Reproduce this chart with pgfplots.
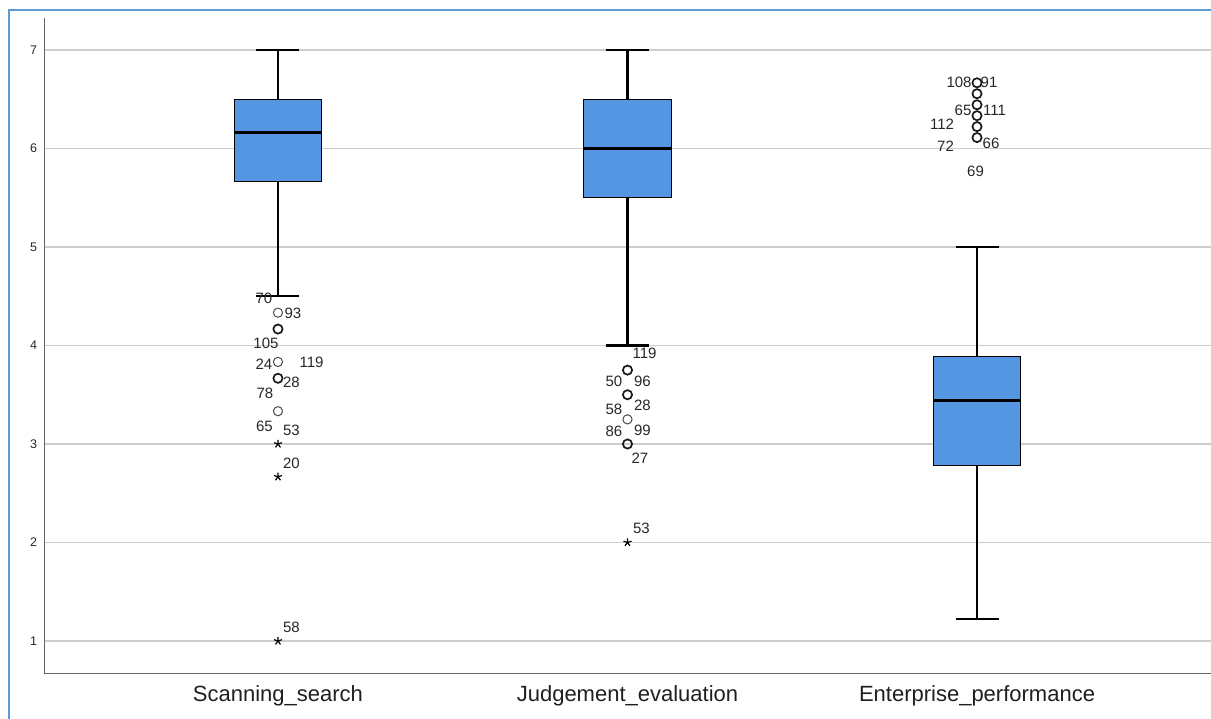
\documentclass[border=0pt]{standalone}
\usepackage{fontspec}
\setmainfont{Liberation Sans}
\usepackage{pgfplots}
\usepackage{pgfplotstable}
\usepgfplotslibrary{statistics}
\pgfplotsset{compat=1.18}
\definecolor{boxblue}{RGB}{85,150,227}
\definecolor{frameblue}{RGB}{91,155,213}
\definecolor{gridgray}{RGB}{205,205,205}
\definecolor{axisgray}{RGB}{100,100,100}
\pgfplotstableread{
x y label dx dy
1 4.333 70 -14 14
1 4.333 93 15 -1
1 4.167 105 -12 -14
1 3.833 24 -14 -2
1 3.833 119 33.5 -0.5
1 3.667 28 13.5 -4
1 3.667 78 -13 -15
1 3.333 65 -13.5 -15.5
1 3.0 53 13.5 14
1 2.667 20 13.5 13.7
1 1.0 58 13.5 13.5
2 3.75 119 17 17
2 3.75 50 -13.5 -11
2 3.75 96 15 -11
2 3.5 58 -13.5 -15
2 3.5 28 15 -10.7
2 3.25 86 -13.5 -11.5
2 3.25 99 15 -10.5
2 3.0 27 12.5 -14.5
2 2.0 53 14 14.3
3 6.667 108 -18 0.7
3 6.667 91 12 0.7
3 6.444 65 -14 -5.7
3 6.444 111 17.5 -5.7
3 6.222 112 -35 2.5
3 6.111 72 -31.5 -9
3 6.111 66 14 -5.5
3 6.111 69 -1.5 -33.5
}\outlierlabels
\begin{document}
\begin{tikzpicture}
\path[use as bounding box] (-44.5pt,-45.5pt) rectangle (1166.5pt,673.5pt);
\draw[frameblue, line width=2pt] (-35.8pt,-60pt) -- (-35.8pt,663.5pt) -- (1200pt,663.5pt);
\begin{axis}[
  at={(0,0)}, anchor=south west,
  scale only axis, width=1166.5pt, height=655.5pt,
  xmin=0.332, xmax=3.6695, ymin=0.670, ymax=7.325,
  axis x line*=bottom, axis y line*=left,
  axis line style={axisgray, line width=1.4pt},
  ytick={1,2,3,4,5,6,7},
  xtick={1,2,3},
  xticklabels={Scanning\_search, Judgement\_evaluation, Enterprise\_performance},
  ymajorgrids, grid style={gridgray, line width=1.4pt},
  major tick length=0pt,
  /pgf/number format/assume math mode=true,
  yticklabel style={font=\fontsize{12.5}{14}\selectfont, text=black!85, xshift=-4pt},
  xticklabel style={font=\fontsize{22}{26}\selectfont, text=black!88, yshift=-9pt},
  clip=false,
  boxplot/draw direction=y,
  boxplot/box extend=0.251,
  boxplot/whisker extend=0.123,
  boxplot/every box/.style={draw=black, fill=boxblue, line width=1.2pt},
  boxplot/every whisker/.style={draw=black, line width=2.2pt},
  boxplot/every median/.style={draw=black, line width=3pt},
]
\addplot[boxplot prepared={draw position=1, lower whisker=4.5, lower quartile=5.667, median=6.167, upper quartile=6.5, upper whisker=7}, draw=black, mark=none] coordinates {};
\addplot[boxplot prepared={draw position=2, lower whisker=4.0, lower quartile=5.5, median=6.0, upper quartile=6.5, upper whisker=7}, draw=black, mark=none] coordinates {};
\addplot[boxplot prepared={draw position=3, lower whisker=1.222, lower quartile=2.778, median=3.444, upper quartile=3.889, upper whisker=5.0}, draw=black, mark=none] coordinates {};
% thin circles
\addplot[only marks, mark=o, mark size=4.6pt, mark options={draw=black!70, line width=1pt}]
  coordinates {(1,4.333) (1,3.833) (1,3.333) (2,3.25)};
% bold circles
\addplot[only marks, mark=o, mark size=4.6pt, mark options={draw=black!90, line width=1.7pt}]
  coordinates {(1,4.167) (1,3.667) (2,3.75) (2,3.5) (2,3.0)
  (3,6.667) (3,6.556) (3,6.444) (3,6.333) (3,6.222) (3,6.111)};
% extremes
\addplot[only marks, mark=star, mark size=4.2pt, mark options={draw=black, line width=1.2pt}]
  coordinates {(1,3.0) (1,2.667) (1,1.0) (2,2.0)};
% labels
\addplot[only marks, mark=none, nodes near coords, point meta=explicit symbolic,
  visualization depends on={\thisrow{dx}\as\dx},
  visualization depends on={\thisrow{dy}\as\dy},
  every node near coord/.append style={anchor=center, xshift=\dx pt, yshift=\dy pt,
    font=\fontsize{15}{17}\selectfont, text=black!85, inner sep=0pt}]
  table[x=x, y=y, meta=label]{\outlierlabels};
\end{axis}
\end{tikzpicture}
\end{document}
